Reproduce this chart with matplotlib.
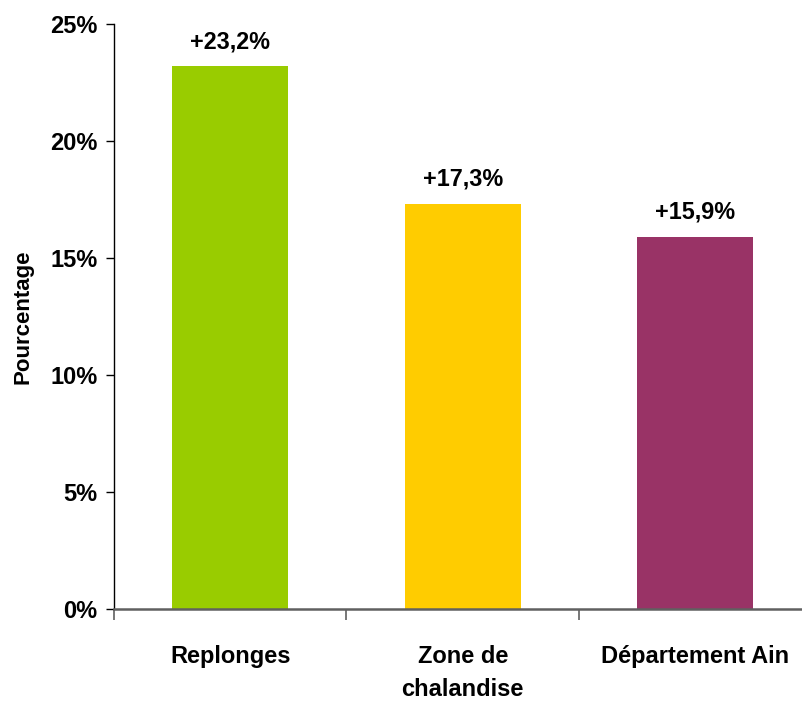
import matplotlib
matplotlib.use("Agg")
import matplotlib.pyplot as plt
from matplotlib import font_manager
from matplotlib.ticker import FuncFormatter

categories = ["Replonges", "Zone de\nchalandise", "Département Ain"]
values = [23.2, 17.3, 15.9]
value_labels = ["+23,2%", "+17,3%", "+15,9%"]
colors = ["#99CC00", "#FFCC00", "#993366"]
yticks = [0, 5, 10, 15, 20, 25]

# pick a narrow font if available
def has_font(name):
    try:
        font_manager.findfont(font_manager.FontProperties(family=name, weight="bold"),
                              fallback_to_default=False)
        return True
    except Exception:
        return False

narrow = "Liberation Sans Narrow" if has_font("Liberation Sans Narrow") else None
if narrow:
    tick_family, tick_size = narrow, 20
else:
    tick_family, tick_size = "Liberation Sans", 17

fig = plt.figure(figsize=(8.03, 7.06), dpi=100)
ax = fig.add_axes([114 / 803, 97.5 / 706, 697.5 / 803, 584.5 / 706])

x = list(range(len(categories)))
ax.bar(x, values, width=0.5, color=colors, zorder=2)

for xi, v, lab in zip(x, values, value_labels):
    ax.annotate(lab, (xi, v), xytext=(0, 13), textcoords="offset points",
                ha="center", va="baseline", fontsize=16.8, fontweight="bold",
                family="Liberation Sans")

ax.set_xlim(-0.5, 2.5)
ax.set_ylim(0, 25)
ax.set_yticks(yticks)
ax.yaxis.set_major_formatter(FuncFormatter(lambda v, p: f"{int(v)}%"))
ax.set_xticks([-0.5, 0.5, 1.5, 2.5])
ax.set_xticklabels([])
ax.set_xticks(x, minor=True)
ax.set_xticklabels(categories, minor=True)

for s in ["top", "right"]:
    ax.spines[s].set_visible(False)
ax.spines["left"].set_color("black")
ax.spines["left"].set_linewidth(1.0)
ax.spines["bottom"].set_color("#606060")
ax.spines["bottom"].set_linewidth(1.8)

ax.tick_params(axis="y", direction="out", length=6, width=1.0, color="black", pad=6)
ax.tick_params(axis="x", which="major", direction="out", length=8, width=1.2, color="#606060")
ax.tick_params(axis="x", which="minor", length=0, pad=26)

for t in ax.get_yticklabels():
    t.set_family(tick_family); t.set_fontsize(tick_size); t.set_fontweight("bold")
for t in ax.get_xticklabels(minor=True):
    t.set_family(tick_family); t.set_fontsize(tick_size); t.set_fontweight("bold")
    t.set_linespacing(1.55)

ax.set_ylabel("Pourcentage", fontsize=16, fontweight="bold", family="Liberation Sans")
ax.yaxis.set_label_coords(-0.116, 0.5)

fig.savefig("out.png", dpi=100)
